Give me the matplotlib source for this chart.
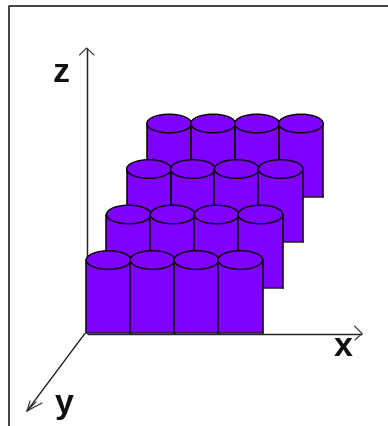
import matplotlib
matplotlib.use("Agg")
import matplotlib.pyplot as plt
from matplotlib.patches import Ellipse, Polygon

# Data: a 4 x 4 grid of equal-height cylinders
x_positions = [0, 1, 2, 3]
depth_positions = [3, 2, 1, 0]          # 3 = back row, 0 = front row
heights = [
    [1, 1, 1, 1],
    [1, 1, 1, 1],
    [1, 1, 1, 1],
    [1, 1, 1, 1],
]
axis_labels = ["x", "y", "z"]

PURPLE = "#7F00FF"
W, H = 388, 427
ORIGIN = (86.6, 334.0)
DX, DEPTH_X, DEPTH_Y, ZSCALE = 43.9, 20.2, -45.5, 73.0
RX, RY = 22.3, 9.3


def project(x, depth, z):
    return (ORIGIN[0] + (x + 0.5) * DX + depth * DEPTH_X,
            ORIGIN[1] + depth * DEPTH_Y - z * ZSCALE)


fig = plt.figure(figsize=(W / 100, H / 100), dpi=100)
ax = fig.add_axes([0, 0, 1, 1])
ax.set_xlim(0, W)
ax.set_ylim(H, 0)
ax.axis("off")

# outer frame (left and top only)
ax.plot([9.3, 9.3, W], [H, 7.2, 7.2], color="#333333", lw=1.3, zorder=1)

# axes lines
AX = dict(color="#222222", lw=1.05, zorder=2, solid_capstyle="butt")
ax.plot([ORIGIN[0], ORIGIN[0]], [ORIGIN[1], 49], **AX)
ax.plot([ORIGIN[0], 362], [ORIGIN[1] + 0.5, ORIGIN[1] + 0.5], **AX)
ax.plot([84.5, 27], [335, 412], color="#222222", lw=1.0, zorder=2)

ARROW = dict(color="#333333", lw=0.85, zorder=2, solid_capstyle="round")
ax.plot([79.5, 86.6, 94], [56, 49, 56], **ARROW)
ax.plot([354.5, 362, 355], [327, 334.5, 341], **ARROW)
ax.plot([30, 27, 36], [402, 412, 403], **ARROW)
ax.plot([33, 27, 42], [405, 412, 404], **ARROW)

# cylinders, back to front
z = 10
for row, depth in enumerate(depth_positions):
    for col, x in enumerate(x_positions):
        cx, top = project(x, depth, heights[row][col])
        bx, bottom = project(x, depth, 0)
        ax.add_patch(Polygon([(cx - RX, top), (cx + RX, top), (bx + RX, bottom), (bx - RX, bottom)],
                             closed=True, facecolor=PURPLE, edgecolor="none", zorder=z))
        ax.plot([cx - RX, cx - RX], [top, bottom], color="black", lw=1.1, zorder=z + 1)
        ax.plot([cx + RX, cx + RX], [top, bottom], color="black", lw=1.1, zorder=z + 1)
        ax.plot([cx - RX, cx + RX], [bottom, bottom], color="#222222", lw=1.1, zorder=z + 1)
        ax.add_patch(Ellipse((cx, top), 2 * RX, 2 * RY, facecolor=PURPLE, edgecolor="black",
                             lw=1.0, zorder=z + 2))
        z += 3

# axis letters
FONT = dict(family="Liberation Sans", fontweight="bold", fontsize=24.5, color="#111111",
            ha="center", zorder=200)
ax.text(343, 356.5, axis_labels[0], **FONT)
ax.text(64, 413.5, axis_labels[1], **FONT)
ax.text(61, 81.5, axis_labels[2], **FONT)

fig.savefig("out.png", dpi=100, facecolor="white")
